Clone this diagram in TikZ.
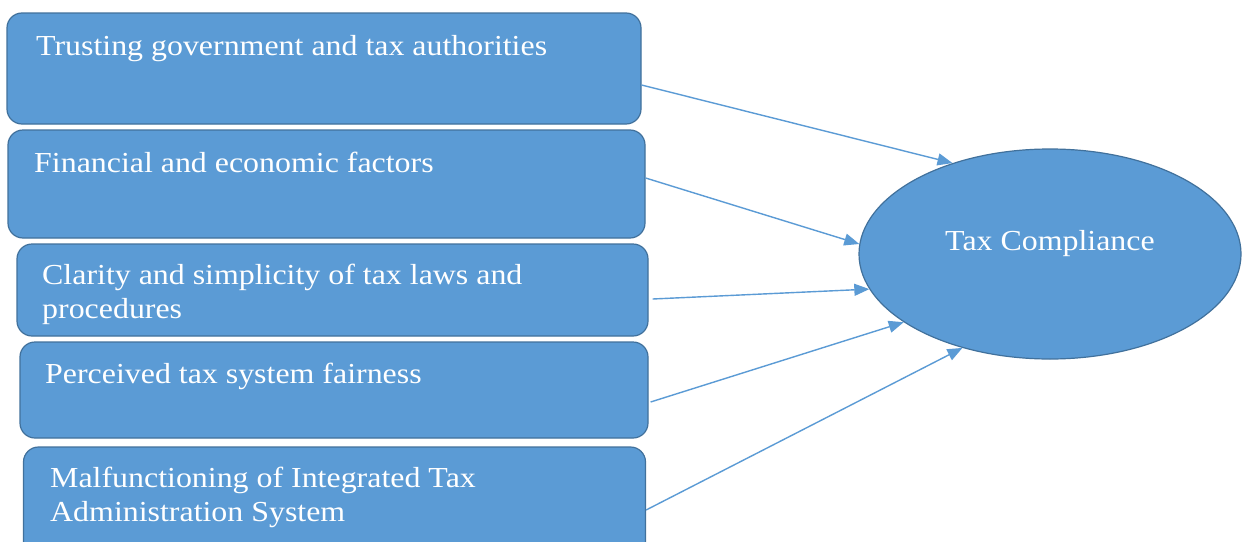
\documentclass[tikz,border=0pt]{standalone}
\usepackage{fontspec}
\setmainfont{Liberation Serif}[FakeStretch=1.1]
\usetikzlibrary{shapes.geometric,arrows.meta}
\definecolor{boxfill}{HTML}{5B9BD5}
\definecolor{boxline}{HTML}{41719C}
\definecolor{arrowc}{HTML}{5B9BD5}
\tikzset{
  factor/.style={draw=boxline, line width=1.2pt, fill=boxfill, rounded corners=15pt, inner sep=0pt},
  lbl/.style={anchor=base west, inner sep=0pt, text=white, align=left, font=\fontsize{29}{34}\selectfont},
  conn/.style={draw=arrowc, line width=1.4pt, -{Triangle[length=15pt,width=12pt]}}
}
\begin{document}
\begin{tikzpicture}[x=1pt,y=-1pt]
\clip (0,0) rectangle (1242,541);
\fill[white] (0,0) rectangle (1242,541);
\node[factor, minimum width=634pt, minimum height=111pt] (b1) at (324,68.5) {};
\node[factor, minimum width=637pt, minimum height=108pt] (b2) at (326.5,184) {};
\node[factor, minimum width=631pt, minimum height=92pt] (b3) at (332.5,290) {};
\node[factor, minimum width=628pt, minimum height=96pt] (b4) at (334,390) {};
\node[factor, minimum width=622pt, minimum height=112pt] (b5) at (334.5,503) {};
\node[lbl] (t1) at (36,55) {Trusting government and tax authorities};
\node[lbl] (t2) at (34,172) {Financial and economic factors};
\node[lbl] (t3) at (42,318) {Clarity and simplicity of tax laws and\\procedures};
\node[lbl] (t4) at (45,383) {Perceived tax system fairness};
\node[lbl] (t5) at (50,521) {Malfunctioning of Integrated Tax\\Administration System};
\node[ellipse, draw=boxline, line width=1.2pt, fill=boxfill, minimum width=382pt, minimum height=210pt, inner sep=0pt] (tc) at (1050,254) {};
\node[lbl] (tct) at (945,250) {Tax Compliance};
\draw[conn] ([yshift=-16.5pt]b1.east) -- (tc.137);
\draw[conn] ([yshift=6pt]b2.east) -- (tc.177);
\draw[conn] ([xshift=4pt,yshift=-9pt]b3.east) -- (tc.191.4);
\draw[conn] ([xshift=2pt,yshift=-12pt]b4.east) -- (tc.205);
\draw[conn] ([yshift=-7pt]b5.east) -- (tc.227.6);
\end{tikzpicture}
\end{document}
